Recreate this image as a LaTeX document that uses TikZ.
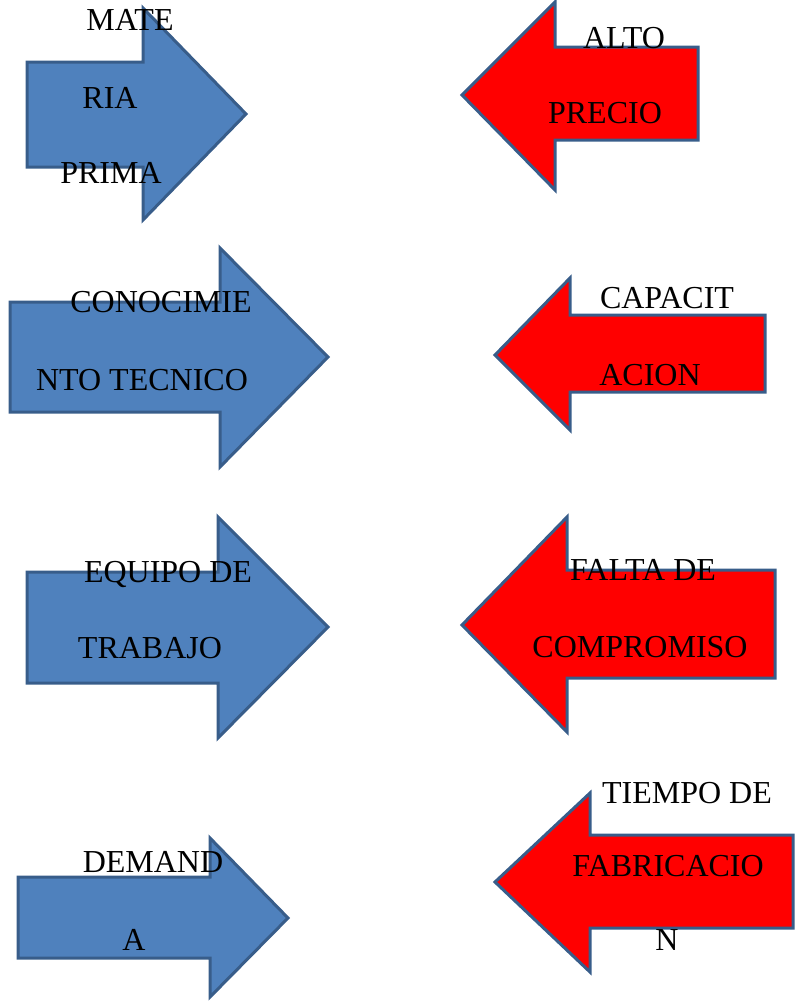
\documentclass[tikz,border=0pt]{standalone}
\usepackage{fontspec}
\setmainfont{Liberation Serif}
\definecolor{bluefill}{HTML}{4F81BD}
\definecolor{edgeblue}{HTML}{385D8A}
\definecolor{redfill}{HTML}{FF0000}
\tikzset{
  bluearrow/.style={fill=bluefill, draw=edgeblue, line width=3pt, line join=miter},
  redarrow/.style={fill=redfill, draw=edgeblue, line width=3pt, line join=miter},
  lbl/.style={anchor=base, inner sep=0pt, font=\fontsize{32}{38}\selectfont, text=black}
}
\begin{document}
\begin{tikzpicture}[x=1pt,y=-1pt]
\useasboundingbox (0,0) rectangle (796,1001);
% arrows
\draw[bluearrow] (27,62) -- (143,62) -- (143,8) -- (246,114) -- (143,220) -- (143,167) -- (27,167) -- cycle;
\draw[redarrow] (698,47) -- (555,47) -- (555,2) -- (462,95) -- (555,190) -- (555,140) -- (698,140) -- cycle;
\draw[bluearrow] (10,302) -- (220,302) -- (220,248) -- (328,357) -- (220,467) -- (220,412) -- (10,412) -- cycle;
\draw[redarrow] (765,315) -- (570,315) -- (570,278) -- (495,355) -- (570,430) -- (570,392) -- (765,392) -- cycle;
\draw[bluearrow] (27,572) -- (218,572) -- (218,517) -- (328,627) -- (218,738) -- (218,683) -- (27,683) -- cycle;
\draw[redarrow] (775,570) -- (567,570) -- (567,517) -- (462,625) -- (567,732) -- (567,678) -- (775,678) -- cycle;
\draw[bluearrow] (18,877) -- (210,877) -- (210,838) -- (288,918) -- (210,997) -- (210,958) -- (18,958) -- cycle;
\draw[redarrow] (793,835) -- (590,835) -- (590,793) -- (495,882) -- (590,972) -- (590,928) -- (793,928) -- cycle;
% labels
\node[lbl] (a1) at (130,30) {MATE};
\node[lbl] (a2) at (110,108) {RIA};
\node[lbl] (a3) at (111,183) {PRIMA};
\node[lbl] (b1) at (624,48) {ALTO};
\node[lbl] (b2) at (605,123) {PRECIO};
\node[lbl] (c1) at (161,312) {CONOCIMIE};
\node[lbl] (c2) at (142,390) {NTO TECNICO};
\node[lbl] (d1) at (667,308) {CAPACIT};
\node[lbl] (d2) at (650,385) {ACION};
\node[lbl] (e1) at (168,582) {EQUIPO DE};
\node[lbl] (e2) at (150,658) {TRABAJO};
\node[lbl] (f1) at (643,580) {FALTA DE};
\node[lbl] (f2) at (640,657) {COMPROMISO};
\node[lbl] (g1) at (153,872) {DEMAND};
\node[lbl] (g2) at (134,950) {A};
\node[lbl] (h1) at (687,803) {TIEMPO DE};
\node[lbl] (h2) at (668,876) {FABRICACIO};
\node[lbl] (h3) at (667,950) {N};
\end{tikzpicture}
\end{document}
